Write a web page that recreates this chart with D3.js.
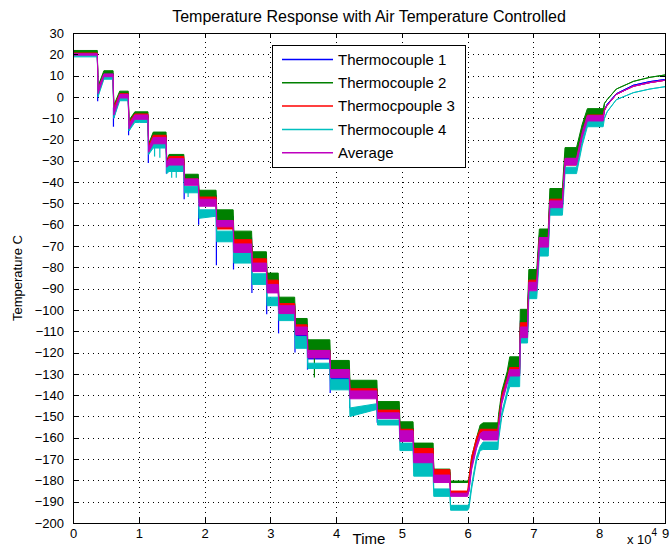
<!DOCTYPE html>
<html>
<head>
<meta charset="utf-8">
<script src="https://cdnjs.cloudflare.com/ajax/libs/d3/7.8.5/d3.min.js"></script>
<style>
  body { margin: 0; background: #fff; }
  svg { display: block; font-family: "Liberation Sans", Arial, sans-serif; }
</style>
</head>
<body>
<svg id="chart" width="670" height="546"></svg>
<script>
// time of each envelope point (seconds)
const time = [
  0, 3700,
  3800, 4700, 6100,
  6200, 7100, 8400,
  8500, 9400, 11400,
  11500, 12200, 14150,
  14250, 14600, 16850,
  16950, 19050,
  19150, 21750,
  21850, 24350,
  24450, 27150,
  27250, 29400,
  29500, 31200,
  31300, 33700,
  33800, 35600,
  35700, 39050,
  39150, 42000,
  42100, 46200,
  46300, 49600,
  49700, 51700,
  51800, 54750,
  54850, 57300,
  57400, 60000,
  60200, 60600, 61350, 61900,
  62350, 64600,
  64700, 65200, 66000,
  66400, 67900,
  68000, 69100,
  69300, 70500,
  70900, 72250,
  72500, 74400,
  74800, 76550,
  77400,
  78200, 80600,
  80800, 81200, 82600, 85200, 87700, 90000
];

// [low, high] of each thermocouple trace at those times (deg C)
const tc1 = [
  [19.8,20.4],[19.8,20.4],
  [1,3],[9.5,11],[9.5,11],
  [-10,-7],[-0.5,1.5],[-0.5,1.5],
  [-16,-13],[-10.5,-8.5],[-10.5,-8.5],
  [-27,-24],[-21,-18],[-21,-18],
  [-34,-31],[-32,-29],[-32,-29],
  [-41,-38],[-41,-38],
  [-50,-46],[-50,-46],
  [-60,-56],[-60,-56],
  [-71,-66],[-71,-66],
  [-80,-76],[-80,-76],
  [-90,-86],[-90,-86],
  [-100,-97],[-100,-97],
  [-113,-107],[-113,-107],
  [-123,-119],[-123,-119],
  [-134,-128],[-134,-128],
  [-140,-137],[-140,-137],
  [-149,-146.5],[-149,-146.5],
  [-158,-155.5],[-158,-155.5],
  [-168,-165],[-168,-165],
  [-179,-176],[-179,-176],
  [-186.5,-185.5],[-186.5,-185.5],
  [-185,-183],[-173,-171],[-164,-162],[-159,-157],
  [-160,-155],[-160,-155],
  [-154,-152],[-142,-140],[-133,-131],
  [-130,-126],[-130,-126],
  [-110,-105],[-110,-105],
  [-89,-85],[-89,-85],
  [-68,-65],[-68,-65],
  [-51,-47],[-51,-47],
  [-31,-28],[-31,-28],
  [-18,-16],
  [-10.5,-8],[-10.5,-8],
  [-6,-6],[-3.5,-3.5],[1.5,1.5],[5.5,5.5],[7.2,7.2],[8.2,8.2]
];

const tc2 = [
  [20.5,21.8],[20.5,21.8],
  [3,5],[10.5,12.3],[10.5,12.3],
  [-6,-4],[0.5,2.7],[0.5,2.7],
  [-13,-11],[-9,-7],[-9,-7],
  [-24,-22],[-19,-16.5],[-19,-16.5],
  [-32,-30],[-29.5,-27],[-29.5,-27],
  [-38.5,-36.3],[-38.5,-36.3],
  [-48,-43.8],[-48,-43.8],
  [-58,-53],[-58,-53],
  [-69,-63],[-69,-63],
  [-79,-72.7],[-79,-72.7],
  [-89,-82.7],[-89,-82.7],
  [-98,-94],[-98,-94],
  [-108,-104],[-108,-104],
  [-119,-114],[-119,-114],
  [-128.3,-123.7],[-128.3,-123.7],
  [-137.5,-133],[-137.5,-133],
  [-147,-143],[-147,-143],
  [-156,-152.5],[-156,-152.5],
  [-166,-162.5],[-166,-162.5],
  [-177.5,-174.7],[-177.5,-174.7],
  [-181,-180.3],[-181,-180.3],
  [-180,-179],[-171,-169],[-162,-160],[-156,-154],
  [-156,-153],[-156,-153],
  [-151,-149],[-140,-138],[-131,-129],
  [-128,-122],[-128,-122],
  [-108,-99.7],[-108,-99.7],
  [-87,-81],[-87,-81],
  [-68,-62],[-68,-62],
  [-49.7,-43],[-49.7,-43],
  [-30.5,-23.8],[-30.5,-23.8],
  [-15,-13],
  [-9.7,-5.5],[-9.7,-5.5],
  [-3,-3],[-1.3,-1.3],[3.7,3.7],[7.3,7.3],[9.2,9.2],[10.3,10.3]
];

const tc3 = [
  [20,20.6],[20,20.6],
  [2,4],[9.5,10.5],[9.5,10.5],
  [-7,-5],[0,1.5],[0,1.5],
  [-14,-12],[-10,-8],[-10,-8],
  [-25,-23],[-20,-18],[-20,-18],
  [-33,-31],[-31,-28],[-31,-28],
  [-40,-38.5],[-40,-38.5],
  [-49,-47],[-49,-47],
  [-62,-58],[-62,-58],
  [-71,-67],[-71,-67],
  [-79,-76],[-79,-76],
  [-89,-86],[-89,-86],
  [-100,-97],[-100,-97],
  [-110,-107],[-110,-107],
  [-122,-119],[-122,-119],
  [-131,-128],[-131,-128],
  [-140,-137],[-140,-137],
  [-149,-147],[-149,-147],
  [-158,-156],[-158,-156],
  [-168,-165],[-168,-165],
  [-179,-175],[-179,-175],
  [-186.7,-185],[-186.7,-185],
  [-181,-179],[-171,-169],[-162,-160],[-158,-156],
  [-158,-156],[-158,-156],
  [-154,-152],[-142,-140],[-134,-132],
  [-130,-127],[-130,-127],
  [-110,-106],[-110,-106],
  [-89,-86],[-89,-86],
  [-69,-66],[-69,-66],
  [-51,-48],[-51,-48],
  [-32,-29],[-32,-29],
  [-19,-17],
  [-10.5,-8.5],[-10.5,-8.5],
  [-6,-6],[-4,-4],[1.2,1.2],[5,5],[6.7,6.7],[7.8,7.8]
];

const tc4 = [
  [18.8,19.5],[18.8,19.5],
  [0,2],[8.3,9.5],[8.3,9.5],
  [-10,-8],[-1.8,-0.2],[-1.8,-0.2],
  [-16,-14],[-12,-10],[-12,-10],
  [-27,-25],[-24,-21],[-24,-21],
  [-36,-33],[-35,-32],[-35,-32],
  [-45,-42],[-45,-42],
  [-57,-53],[-56,-53],
  [-68,-63],[-68,-63],
  [-78,-73],[-78,-73],
  [-88,-83],[-88,-83],
  [-98,-94],[-98,-94],
  [-105,-101.7],[-105,-101.7],
  [-118,-112.5],[-118,-112.5],
  [-127.5,-125],[-127.5,-125],
  [-137.5,-132.5],[-137.5,-132.5],
  [-150,-146],[-146.7,-144],
  [-154,-151.7],[-154,-151.7],
  [-166,-162.5],[-166,-162.5],
  [-178,-171],[-178,-171],
  [-187.5,-184],[-187.5,-184],
  [-194,-191.7],[-194,-191.7],
  [-193,-191],[-184,-182],[-171,-169],[-166,-164],
  [-165.5,-162],[-165.5,-162],
  [-161,-159],[-150,-148],[-140,-138],
  [-136,-131],[-136,-131],
  [-115.5,-112],[-115.5,-112],
  [-94.7,-91.3],[-94.7,-91.3],
  [-74.7,-70.5],[-74.7,-70.5],
  [-55.5,-52],[-55.5,-52],
  [-36,-33],[-36,-33],
  [-23,-21],
  [-14,-10.5],[-14,-10.5],
  [-10,-10],[-7,-7],[-1.3,-1.3],[2,2],[3.7,3.7],[4.8,4.8]
];

const avg = [
  [19.6,20.3],[19.6,20.3],
  [1.5,3.5],[9.5,10.8],[9.5,10.8],
  [-8.5,-6.5],[-0.5,1.2],[-0.5,1.2],
  [-15,-13],[-10.5,-8.5],[-10.5,-8.5],
  [-26,-24],[-22,-19],[-22,-19],
  [-33,-31],[-32,-29],[-32,-29],
  [-41.5,-38.5],[-41.5,-38.5],
  [-51.3,-48],[-51.3,-48],
  [-61,-58],[-61,-58],
  [-73,-69],[-73,-69],
  [-82,-78],[-82,-78],
  [-92,-88],[-92,-88],
  [-101.7,-98],[-101.7,-98],
  [-111.7,-108],[-111.7,-108],
  [-122.5,-119],[-122.5,-119],
  [-131.7,-128],[-131.7,-128],
  [-141.7,-138],[-141.7,-138],
  [-151,-148.3],[-151,-148.3],
  [-161.7,-156.7],[-161.7,-156.7],
  [-171.7,-167.5],[-171.7,-167.5],
  [-181,-177.5],[-181,-177.5],
  [-187.5,-186],[-187.5,-186],
  [-185,-183],[-175,-173],[-165,-163],[-160,-158],
  [-161,-157],[-161,-157],
  [-156,-154],[-144,-142],[-135,-133],
  [-131,-128],[-131,-128],
  [-113,-108],[-113,-108],
  [-91,-87],[-91,-87],
  [-70.5,-66],[-70.5,-66],
  [-52,-48.8],[-52,-48.8],
  [-32,-28.8],[-32,-28.8],
  [-19,-17],
  [-11.3,-8.8],[-11.3,-8.8],
  [-6.5,-6.5],[-4,-4],[1.2,1.2],[5,5],[6.7,6.7],[7.8,7.8]
];

// short spikes [time, from, to]
const tc1Spikes = [
  [3750, 5, -2], [6150, -5, -14], [8450, -10, -18], [11450, -20, -31],
  [14200, -28, -36], [16900, -38, -48], [19100, -45, -60], [21800, -55, -79],
  [24400, -65, -81], [27200, -75, -92], [29450, -85, -102], [31250, -95, -111],
  [33750, -105, -120], [35650, -115, -128], [39100, -125, -139], [42050, -135, -146],
  [46250, -145, -153], [49650, -155, -161]
];
const tc2Spikes = [[36700, -119, -131.7]];
const tc4Spikes = [[12400, -24, -28], [13200, -24, -28.5], [15000, -35, -38], [15700, -35, -38], [17500, -45, -47]];

const seriesNames = ["Thermocouple 1", "Thermocouple 2", "Thermocpouple 3", "Thermocouple 4", "Average"];
const seriesColors = ["#0000ff", "#008000", "#ff0000", "#00bfbf", "#bf00bf"];
const xTicks = [0, 10000, 20000, 30000, 40000, 50000, 60000, 70000, 80000, 90000];
const yTicks = d3.range(-200, 31, 10);

const svg = d3.select("#chart");
const L = 73, R = 665, T = 33, B = 523;
const x = d3.scaleLinear().domain([0, 90000]).range([L, R]);
const y = d3.scaleLinear().domain([-200, 30]).range([B, T]);

// grid
const grid = svg.append("g");
grid.append("g").attr("transform", `translate(0,${B})`)
  .call(d3.axisBottom(x).tickValues(xTicks).tickSize(-(B - T)).tickFormat(""));
grid.append("g").attr("transform", `translate(${L},0)`)
  .call(d3.axisLeft(y).tickValues(yTicks).tickSize(-(R - L)).tickFormat(""));
grid.selectAll(".domain").remove();
grid.selectAll("line").attr("stroke", "#000").attr("stroke-dasharray", "1,4")
  .attr("shape-rendering", "crispEdges");

// data
svg.append("clipPath").attr("id", "clip").append("rect")
  .attr("x", L).attr("y", T).attr("width", R - L).attr("height", B - T);
const plot = svg.append("g").attr("clip-path", "url(#clip)");

const area = d3.area()
  .x((d, i) => x(time[i]))
  .y0(d => y(d[0]))
  .y1(d => y(d[1]));

const spikesFor = [tc1Spikes, tc2Spikes, [], tc4Spikes, []];
[tc1, tc2, tc3, tc4, avg].forEach(function(s, k) {
  const c = seriesColors[k];
  plot.append("path").attr("d", area(s)).attr("fill", c).attr("stroke", c)
    .attr("stroke-width", 1).attr("stroke-linejoin", "round");
  plot.selectAll(null).data(spikesFor[k]).enter().append("line")
    .attr("x1", d => x(d[0])).attr("x2", d => x(d[0]))
    .attr("y1", d => y(d[1])).attr("y2", d => y(d[2]))
    .attr("stroke", c).attr("stroke-width", 1.2);
});

// axes box and inward ticks
const fmtX = d => d / 10000;
const ax = svg.append("g");
ax.append("g").attr("transform", `translate(0,${B})`)
  .call(d3.axisBottom(x).tickValues(xTicks).tickSize(-5).tickPadding(6).tickFormat(fmtX));
ax.append("g").attr("transform", `translate(0,${T})`)
  .call(d3.axisTop(x).tickValues(xTicks).tickSize(-5).tickFormat(""));
ax.append("g").attr("transform", `translate(${L},0)`)
  .call(d3.axisLeft(y).tickValues(yTicks).tickSize(-5).tickPadding(9));
ax.append("g").attr("transform", `translate(${R},0)`)
  .call(d3.axisRight(y).tickValues(yTicks).tickSize(-5).tickFormat(""));
ax.selectAll("g").attr("font-family", null).attr("font-size", 13);
ax.selectAll(".domain").remove();
ax.selectAll("line").attr("stroke", "#000").attr("shape-rendering", "crispEdges");
ax.selectAll("text").attr("fill", "#000");
svg.append("rect").attr("x", L).attr("y", T).attr("width", R - L).attr("height", B - T)
  .attr("fill", "none").attr("stroke", "#000").attr("shape-rendering", "crispEdges");

// titles
svg.append("text").attr("x", (L + R) / 2).attr("y", 22).attr("text-anchor", "middle")
  .attr("font-size", 16).text("Temperature Response with Air Temperature Controlled");
svg.append("text").attr("x", (L + R) / 2).attr("y", 544).attr("text-anchor", "middle")
  .attr("font-size", 15).text("Time");
svg.append("text").attr("transform", `translate(22,${(T + B) / 2}) rotate(-90)`)
  .attr("text-anchor", "middle").attr("font-size", 13).text("Temperature C");
const ex = svg.append("text").attr("x", 627).attr("y", 544).attr("font-size", 13);
ex.append("tspan").text("x 10");
ex.append("tspan").attr("dy", -8).attr("font-size", 10).text("4");

// legend
const lg = svg.append("g").attr("transform", "translate(272,45)");
lg.append("rect").attr("x", 0.5).attr("y", 0.5).attr("width", 193).attr("height", 122)
  .attr("fill", "#fff").attr("stroke", "#000");
const row = lg.selectAll("g.row").data(seriesNames).enter().append("g")
  .attr("transform", (d, i) => `translate(0,${14.5 + i * 23.3})`);
row.append("line").attr("x1", 10).attr("x2", 61).attr("stroke", (d, i) => seriesColors[i]).attr("stroke-width", 1.5);
row.append("text").attr("x", 66).attr("dy", "0.35em").attr("font-size", 15).text(d => d);
</script>
</body>
</html>
